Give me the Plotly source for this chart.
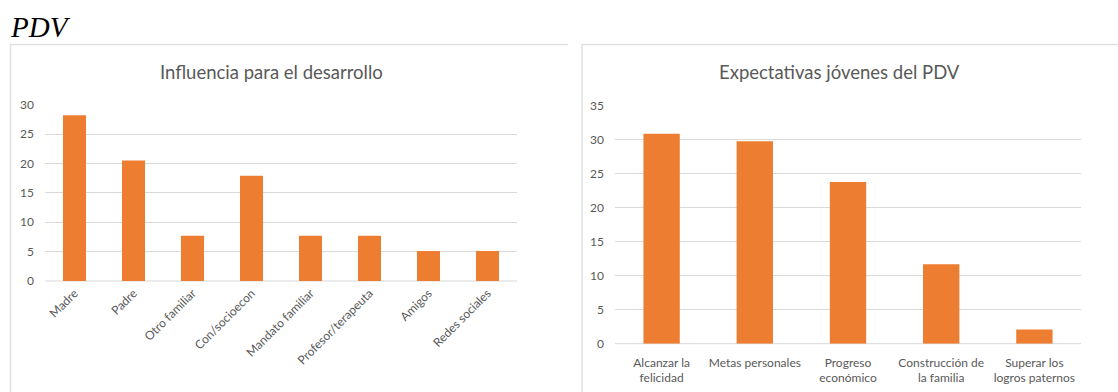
import plotly.graph_objects as go

W, H = 1118, 392

# Data
infl_categories = ["Madre", "Padre", "Otro familiar", "Con/socioecon", "Mandato familiar",
                   "Profesor/terapeuta", "Amigos", "Redes sociales"]
infl_values = [28.2, 20.5, 7.7, 17.9, 7.7, 7.7, 5.1, 5.1]

exp_categories = ["Alcanzar la<br>felicidad", "Metas personales", "Progreso<br>económico",
                  "Construcción de<br>la familia", "Superar los<br>logros paternos"]
exp_values = [30.9, 29.8, 23.8, 11.7, 2.1]

left_title = "Influencia para el desarrollo"
right_title = "Expectativas jóvenes del PDV"
page_title = "PDV"

ORANGE = "#ED7D31"
GRID = "#d9d9d9"
TXT = "#595959"
FONT = "Lato"


def px(x):
    return x / W


def py(y):
    return 1 - y / H


fig = go.Figure()
fig.add_trace(go.Bar(x=infl_categories, y=infl_values, marker_color=ORANGE,
                     marker_line_width=0, xaxis="x", yaxis="y"))
fig.add_trace(go.Bar(x=exp_categories, y=exp_values, marker_color=ORANGE,
                     marker_line_width=0, xaxis="x2", yaxis="y2"))

axis_common = dict(showline=False, zeroline=False, ticks="", automargin=False,
                   tickfont=dict(family=FONT, size=12, color=TXT))

fig.update_layout(
    template="none",
    width=W, height=H,
    margin=dict(l=0, r=0, t=0, b=0, pad=0, autoexpand=False),
    paper_bgcolor="white", plot_bgcolor="white",
    showlegend=False,
    bargap=0.61,
    font=dict(family=FONT, color=TXT),
    xaxis=dict(domain=[px(45), px(517)], anchor="y", tickangle=-45,
               showgrid=False, ticklabelstandoff=2, **axis_common),
    yaxis=dict(domain=[py(281), py(104.7)], anchor="x", range=[0, 30], dtick=5,
               showgrid=True, gridcolor=GRID, gridwidth=1, ticklabelstandoff=10,
               **axis_common),
    xaxis2=dict(domain=[px(615), px(1081)], anchor="y2", tickangle=0,
                showgrid=False, ticklabelstandoff=10, **axis_common),
    yaxis2=dict(domain=[py(343.7), py(106)], anchor="x2", range=[0, 35], dtick=5,
                showgrid=True, gridcolor=GRID, gridwidth=1, ticklabelstandoff=10,
                **axis_common),
)

# baseline (category axis line) drawn like Excel's light gray axis
fig.add_shape(type="line", xref="paper", yref="paper", x0=px(45), x1=px(517),
              y0=py(281), y1=py(281), line=dict(color=GRID, width=1), layer="below")
fig.add_shape(type="line", xref="paper", yref="paper", x0=px(615), x1=px(1081),
              y0=py(343.7), y1=py(343.7), line=dict(color=GRID, width=1), layer="below")

# chart area borders
BORDER = "#e0e0e0"
for (x0, x1, y0, y1) in [(10, 568, 44.5, 44.5), (10.5, 10.5, 44.5, 400),
                         (582, 1120, 44.5, 44.5), (582, 582, 44.5, 400)]:
    fig.add_shape(type="line", xref="paper", yref="paper", x0=px(x0), x1=px(x1),
                  y0=py(y0), y1=py(y1), line=dict(color=BORDER, width=1.5))

# titles
fig.add_annotation(text=left_title, xref="paper", yref="paper", x=px(271), y=py(72),
                   showarrow=False, xanchor="center", yanchor="middle",
                   font=dict(family=FONT, size=18.5, color=TXT))
fig.add_annotation(text=right_title, xref="paper", yref="paper", x=px(839), y=py(72),
                   showarrow=False, xanchor="center", yanchor="middle",
                   font=dict(family=FONT, size=18.5, color=TXT))
fig.add_annotation(text="<i>" + page_title + "</i>", xref="paper", yref="paper",
                   x=px(8), y=py(27), showarrow=False, xanchor="left", yanchor="middle",
                   font=dict(family="Liberation Serif", size=29, color="black"))

fig.write_html("out.html")
